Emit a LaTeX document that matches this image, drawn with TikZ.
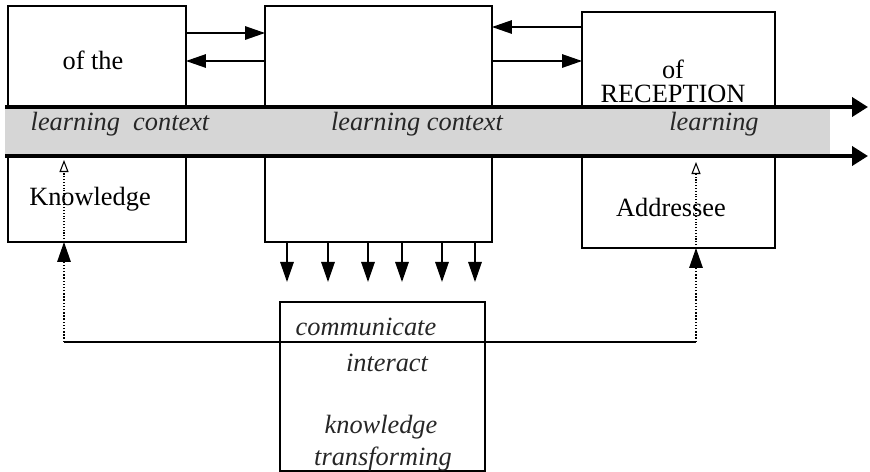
\documentclass[tikz,border=0pt]{standalone}
\usepackage{fontspec}
\setmainfont{Liberation Serif}
\usetikzlibrary{calc,arrows.meta}

\begin{document}
\begin{tikzpicture}[x=0.02cm,y=-0.02cm,>=Stealth,
  box/.style={draw,line width=0.8pt,inner sep=0pt,outer sep=0pt,minimum height=4.72cm},
  arr/.style={-{Triangle[length=0.4cm,width=0.27cm]},line width=0.8pt},
  band/.style={-{Triangle[length=0.32cm,width=0.38cm]},line width=2.2pt},
  lbl/.style={font=\fontsize{15}{13.6}\selectfont,inner sep=0pt,align=center},
  ilbl/.style={lbl,font=\fontsize{15}{17}\selectfont\itshape,text=black!85}]

\useasboundingbox (0,0) rectangle (870,471);

% ----- the three boxes -----
\node[box,minimum width=3.56cm] (kn)  at (97,124)    {};
\node[box,minimum width=4.54cm] (mid) at (378.5,124) {};
\node[box,minimum width=3.86cm] (rc)  at (678.5,130) {};

% ----- arrows between the boxes -----
\draw[arr] (kn.east |- 0,33) -- (mid.west |- 0,33);
\draw[arr] (mid.west |- 0,61) -- (kn.east |- 0,61);
\draw[arr] (rc.west |- 0,27) -- (mid.east |- 0,27);
\draw[arr] (mid.east |- 0,61) -- (rc.west |- 0,61);

% ----- the learning context band -----
\fill[black!16] (5,107) rectangle (830,156);
\draw[band] (5,107) -- (868,107);
\draw[band] (5,156) -- (868,156);

% texts in the boxes
\node[lbl] (ofthe) at (93,60)  {of the};
\node[lbl] (know)  at (90,199) {Knowledge};
\node[lbl] (rec)   at (673,81) {of\\RECEPTION};
\node[lbl] (addr)  at (671,207) {Addressee};

% texts in the band
\node[ilbl] (lc1) at (120,124) {learning\ \ context};
\node[ilbl] (lc2) at (417,124) {learning context};
\node[ilbl] (lc3) at (714,124) {learning};

% ----- down arrows to the bottom box -----
\foreach \x in {287,328,368,402,442,475}
  \draw[arr] (mid.south -| \x,0) -- ++(0,40);

\node[box,minimum width=4.1cm,minimum height=3.38cm] (bot) at (382.5,386.5) {};
\node[ilbl] (comm)  at (366,327) {communicate};
\node[ilbl] (inter) at (387,363) {interact};
\node[ilbl] (kno2)  at (381,427) {knowledge};
\node[ilbl] (trans) at (383,459) {transforming};

% ----- feedback loop -----
\coordinate (loopL) at (64,342);
\coordinate (loopR) at (696,342);
\coordinate (tipL) at (64,160);
\coordinate (tipR) at (696,162);
\draw[line width=0.8pt] (loopL) -- (loopR);
\draw[arr,densely dotted] (loopL) -- (kn.south -| loopL);
\draw[arr,densely dotted] (loopR) -- (rc.south -| loopR);
\draw[densely dotted,line width=0.6pt,-{Triangle[open,length=0.24cm,width=0.18cm]}] (kn.south -| loopL) -- (tipL);
\draw[densely dotted,line width=0.6pt,-{Triangle[open,length=0.24cm,width=0.18cm]}] (rc.south -| loopR) -- (tipR);

\end{tikzpicture}
\end{document}
